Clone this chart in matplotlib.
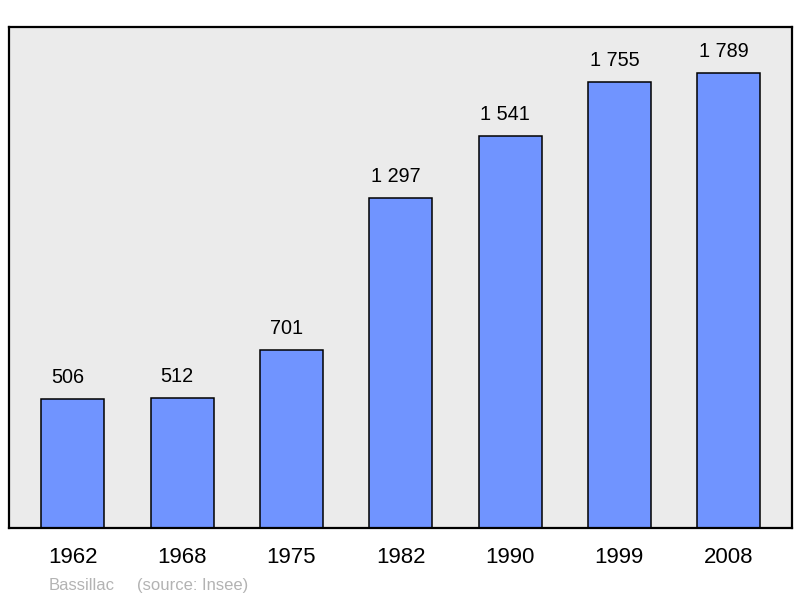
import matplotlib
matplotlib.use("Agg")
import matplotlib.pyplot as plt

plt.rcParams['font.family'] = ['Liberation Sans', 'DejaVu Sans']

# data
years = ['1962', '1968', '1975', '1982', '1990', '1999', '2008']
population = [506, 512, 701, 1297, 1541, 1755, 1789]
value_labels = ['506', '512', '701', '1 297', '1 541', '1 755', '1 789']

fig = plt.figure(figsize=(8, 5.98), dpi=100)
ax = fig.add_axes([0.01125, 0.117, 0.97875, 0.8378])
ax.set_facecolor('#ebebeb')

x = range(len(years))
ax.bar(x, population, width=0.577, color='#7094ff', edgecolor='black', linewidth=1.1, zorder=2)

for xi, v, lab in zip(x, population, value_labels):
    ax.annotate(lab, (xi, v), xytext=(-3.6, 11.5), textcoords='offset points',
                ha='center', va='baseline', fontsize=14.3)

ax.set_xlim(-0.585, 6.58)
ax.set_ylim(0, 1970)
ax.set_xticks(list(x))
ax.set_xticklabels(years, fontsize=16)
ax.tick_params(axis='x', length=0, pad=14)
ax.set_yticks([])
for s in ax.spines.values():
    s.set_linewidth(1.6)
    s.set_color('black')

fig.text(49 / 800, 8 / 598, 'Bassillac', fontsize=12, color='#b3b3b3', ha='left', va='baseline')
fig.text(137 / 800, 8 / 598, '(source: Insee)', fontsize=12, color='#b3b3b3', ha='left', va='baseline')

fig.savefig('out.png', dpi=100)
